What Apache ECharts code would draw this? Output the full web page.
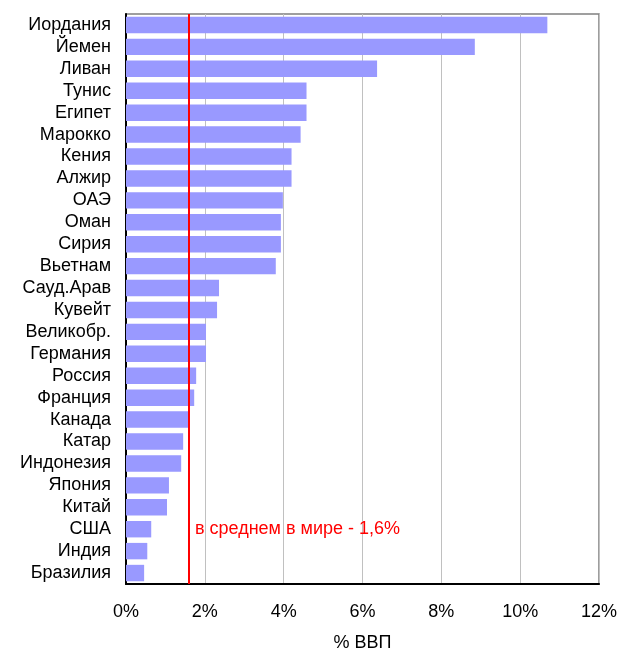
<!DOCTYPE html>
<html>
<head>
<meta charset="utf-8">
<script src="https://cdn.jsdelivr.net/npm/echarts@6/dist/echarts.min.js"></script>
<style>
  html, body { margin: 0; padding: 0; background: #fff; }
  #main { width: 620px; height: 657px; }
</style>
</head>
<body>
<div id="main"></div>
<script>
// страны сверху вниз
const countries = ['Иордания', 'Йемен', 'Ливан', 'Тунис', 'Египет', 'Марокко', 'Кения', 'Алжир',
  'ОАЭ', 'Оман', 'Сирия', 'Вьетнам', 'Сауд.Арав', 'Кувейт', 'Великобр.', 'Германия', 'Россия',
  'Франция', 'Канада', 'Катар', 'Индонезия', 'Япония', 'Китай', 'США', 'Индия', 'Бразилия'];
// % ВВП
const values = [10.69, 8.85, 6.37, 4.58, 4.58, 4.43, 4.2, 4.2, 3.98, 3.93, 3.93, 3.8, 2.36, 2.31,
  2.03, 2.03, 1.78, 1.73, 1.58, 1.45, 1.4, 1.09, 1.04, 0.64, 0.54, 0.46];
const worldAvg = 1.6;
const avgText = 'в среднем в мире - 1,6%';
const xTicks = [0, 2, 4, 6, 8, 10, 12];

const font = 'Liberation Sans, Arial, sans-serif';
var myChart = echarts.init(document.getElementById('main'));
myChart.setOption({
  backgroundColor: '#fff',
  animation: false,
  grid: { left: 126, right: 17, top: 14, bottom: 66, show: true, borderColor: '#808080', borderWidth: 1.5 },
  xAxis: {
    type: 'value', min: xTicks[0], max: xTicks[xTicks.length - 1], interval: 2,
    name: '% ВВП', nameLocation: 'middle', nameGap: 50,
    nameTextStyle: { color: '#000', fontSize: 18, fontFamily: font },
    axisLine: { show: true, lineStyle: { color: '#000', width: 2 } },
    axisTick: { show: false },
    axisLabel: { color: '#000', fontSize: 18, fontFamily: font, margin: 19, formatter: '{value}%' },
    splitLine: { lineStyle: { color: '#c0c0c0', width: 1 } }
  },
  yAxis: {
    type: 'category', data: countries, inverse: true,
    axisLine: { show: true, lineStyle: { color: '#000', width: 2 } },
    axisTick: { show: false },
    axisLabel: { color: '#000', fontSize: 18, fontFamily: font, margin: 15, interval: 0 }
  },
  series: [{
    type: 'bar', data: values, barCategoryGap: '25%',
    itemStyle: { color: '#9999ff' },
    markLine: {
      silent: true, symbol: 'none',
      lineStyle: { color: '#ff0000', width: 2, type: 'solid' },
      label: { show: false },
      data: [{ xAxis: worldAvg }]
    },
    markPoint: {
      silent: true, symbol: 'circle', symbolSize: 0,
      label: { show: true, position: 'right', distance: 0, color: '#ff0000', fontSize: 18, fontFamily: font, formatter: avgText },
      data: [{ coord: [1.75, 'США'] }]
    }
  }]
});
</script>
</body>
</html>
